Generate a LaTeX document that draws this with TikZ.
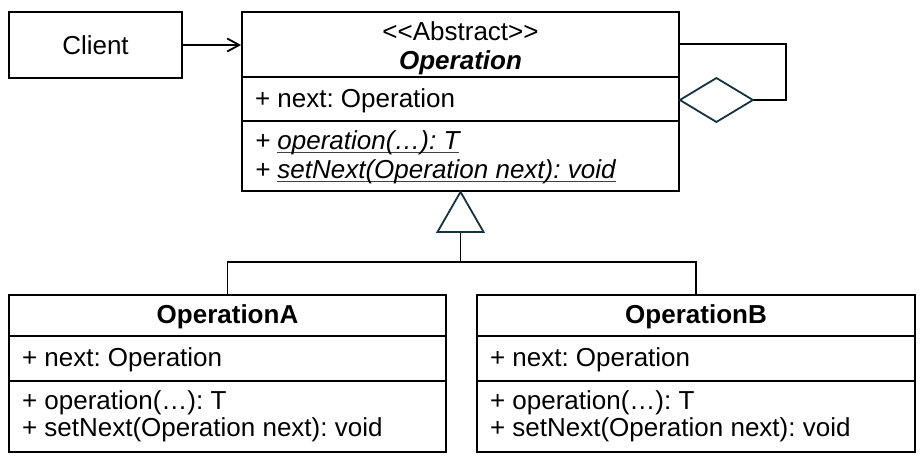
\documentclass[tikz,border=0pt]{standalone}
\usepackage{fontspec}
\setmainfont{Liberation Sans}
\usetikzlibrary{arrows.meta, calc}
\definecolor{tealline}{RGB}{20,50,64}
\newcommand\uln[1]{\setbox0\hbox{#1}\rlap{\color{black!75}\rule[-3.5pt]{\wd0}{1.1pt}}\box0}

\begin{document}
\frenchspacing
\begin{tikzpicture}[x=1pt, y=-1pt, line width=1.8pt,
	every node/.style={font=\fontsize{26}{31}\selectfont},
	cls/.style={rectangle, draw=black, fill=white, inner sep=0pt},
	txt/.style={inner sep=0pt, anchor=base west},
	ttl/.style={inner sep=0pt, anchor=base}]
	\useasboundingbox (0,0) rectangle (920,461);
	\def\pad{13}
	\node[cls, minimum width=173pt, minimum height=66pt] (client) at (95.5,45) {Client};
	\node[cls, minimum width=437pt, minimum height=179pt] (op) at (460.5,101.5) {};
	\node[cls, minimum width=437pt, minimum height=157pt] (opA) at (227.5,373.5) {};
	\node[cls, minimum width=438pt, minimum height=157pt] (opB) at (696,373.5) {};
	\foreach \b/\d in {op/66, op/110, opA/42, opA/87, opB/42, opB/87}
		\draw ($(\b.north west)+(0,\d)$) -- ($(\b.north east)+(0,\d)$);
%%%%
	\node[ttl] (abs) at (460.5,40) {<\kern0pt<Abstract>\kern0pt>};
	\node[ttl] (opname) at (460.5,69) {\textbf{\textit{Operation}}};
	\node[txt] (opnext) at ($(op.north west)+(\pad,96)$) {+ next: Operation};
	\node[txt] (opop) at ($(op.north west)+(\pad,138)$) {\textit{+ \uln{operation(…): T}}};
	\node[txt] (opset) at ($(op.north west)+(\pad,167)$) {\textit{+ \uln{setNext(Operation next): void}}};
	\foreach \c/\n in {opA/OperationA, opB/OperationB} {
		\node[ttl] (\c-name) at ($(\c.north)+(0,29)$) {\textbf{\n}};
		\node[txt] (\c-next) at ($(\c.north west)+(\pad,72)$) {+ next: Operation};
		\node[txt] (\c-op) at ($(\c.north west)+(\pad,115)$) {+ operation(…): T};
		\node[txt] (\c-set) at ($(\c.north west)+(\pad,142)$) {+ setNext(Operation next): void};
	}
%%%%
	\draw[-{Straight Barb[length=12pt, width=13pt]}] (client.east) -- (client.east -| op.west);
	\coordinate (loop1) at (786,44);
	\coordinate (loop2) at (786,100);
	\coordinate (dl) at (op.east |- loop2);
	\coordinate (dr) at ($(dl)+(73,0)$);
	\draw (op.east |- loop1) -- (loop1) -- (loop2) -- (dr);
	\draw[tealline, fill=white] (dl) -- ++(36.5,-22) -- (dr) -- ++(-36.5,22) -- cycle;
%%%%
	\coordinate (tb) at ($(op.south)+(0,40)$);
	\draw (opA.north) -- ++(0,-32) coordinate (j) -| (opB.north);
	\draw (tb) -- (tb |- j);
	\draw[tealline, fill=white] (op.south) -- ++(23,40) -- ++(-46,0) -- cycle;
\end{tikzpicture}
\end{document}
